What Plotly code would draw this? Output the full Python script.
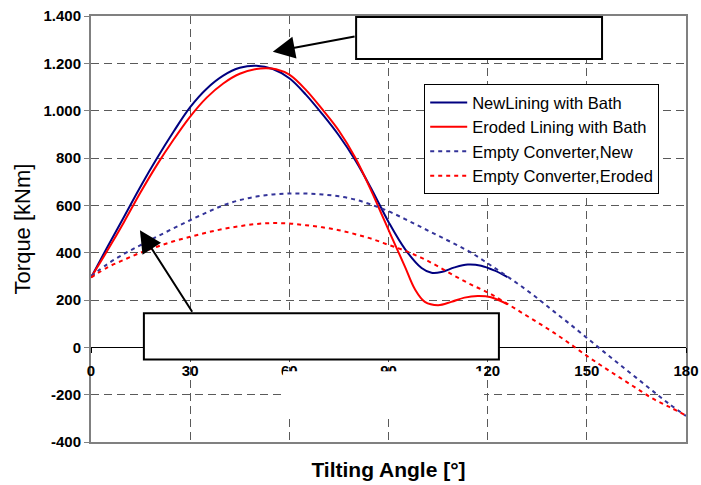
import plotly.graph_objects as go

# ---------------- data ----------------
new_bath_x = [0, 5, 10, 15, 20, 25, 30, 35, 40, 45, 50, 55, 60, 65, 70, 75, 80, 85, 90, 95, 100, 103, 106, 110, 114, 118, 122, 126]
new_bath_y = [295, 425, 552, 680, 800, 912, 1015, 1093, 1148, 1181, 1190, 1176, 1137, 1068, 985, 895, 790, 665, 530, 415, 335, 315, 318, 338, 350, 345, 325, 297]

ero_bath_x = [0, 5, 10, 15, 20, 25, 30, 35, 40, 45, 50, 53, 56, 60, 65, 70, 75, 80, 85, 88, 91, 95, 98, 101, 105, 109, 113, 117, 121, 126]
ero_bath_y = [295, 410, 530, 655, 772, 878, 975, 1055, 1115, 1156, 1176, 1179, 1175, 1152, 1088, 1005, 915, 800, 655, 560, 465, 340, 245, 192, 178, 192, 210, 217, 212, 182]

empty_x = [0, 5, 10, 15, 20, 25, 30, 35, 40, 45, 50, 55, 60, 65, 70, 75, 80, 85, 90, 95, 100, 105, 110, 115, 120, 125, 130, 135, 140, 145, 150, 155, 160, 165, 170, 175, 180]
empty_new_y = [300, 352, 395, 432, 468, 503, 537, 570, 600, 622, 637, 646, 650, 650, 646, 638, 624, 602, 575, 542, 507, 472, 437, 400, 355, 308, 260, 208, 152, 97, 40, -17, -73, -129, -185, -240, -290]
empty_ero_y = [295, 338, 370, 400, 425, 448, 467, 485, 500, 512, 521, 525, 523, 516, 507, 495, 478, 458, 433, 408, 378, 342, 302, 265, 232, 192, 149, 106, 62, 14, -36, -83, -128, -173, -217, -252, -288]

series_names = ["NewLining with Bath", "Eroded Lining with Bath", "Empty Converter,New", "Empty Converter,Eroded"]

x_tick_vals = [0, 30, 60, 90, 120, 150, 180]
x_tick_text = ["0", "30", "60", "90", "120", "150", "180"]
y_tick_vals = [-400, -200, 0, 200, 400, 600, 800, 1000, 1200, 1400]
y_tick_text = ["-400", "-200", "0", "200", "400", "600", "800", "1.000", "1.200", "1.400"]

# ---------------- figure ----------------
FONT = "Liberation Sans, Arial, sans-serif"

fig = go.Figure()
fig.add_trace(go.Scatter(x=new_bath_x, y=new_bath_y, name=series_names[0], mode="lines",
                         line=dict(color="#000080", width=2, shape="spline", smoothing=1)))
fig.add_trace(go.Scatter(x=ero_bath_x, y=ero_bath_y, name=series_names[1], mode="lines",
                         line=dict(color="#FF0000", width=2, shape="spline", smoothing=1)))
fig.add_trace(go.Scatter(x=empty_x, y=empty_new_y, name=series_names[2], mode="lines",
                         line=dict(color="#333399", width=2, dash="4px,4px", shape="spline", smoothing=1)))
fig.add_trace(go.Scatter(x=empty_x, y=empty_ero_y, name=series_names[3], mode="lines",
                         line=dict(color="#FF0000", width=2, dash="4px,4px", shape="spline", smoothing=1)))

# invisible trace on overlay axis to carry the x tick labels along the zero line
fig.add_trace(go.Scatter(x=[0, 180], y=[0, 0], xaxis="x2", mode="lines",
                         line=dict(width=0), showlegend=False, hoverinfo="skip"))

grid = dict(showgrid=True, gridcolor="#5a5a5a", gridwidth=1, griddash="8px,5px")

fig.update_layout(
    width=701, height=485,
    margin=dict(l=91, r=15, t=16, b=43),
    paper_bgcolor="white", plot_bgcolor="white",
    font=dict(family=FONT, color="black"),
    showlegend=True,
    legend=dict(x=0.56, y=0.84, xanchor="left", yanchor="top",
                bgcolor="white", bordercolor="black", borderwidth=1,
                font=dict(family=FONT, size=16.5, color="black"),
                itemwidth=37, tracegroupgap=0),
    xaxis=dict(range=[0, 180], tickvals=x_tick_vals, showticklabels=False, ticks="",
               showline=True, linecolor="#808080", linewidth=1.5, mirror=True,
               zeroline=False, automargin=False,
               title=dict(text="<b>Tilting Angle [°]</b>", standoff=20,
                          font=dict(family=FONT, size=21, color="black")),
               **grid),
    xaxis2=dict(range=[0, 180], overlaying="x", anchor="free", position=0.223, side="bottom",
                tickvals=x_tick_vals, ticktext=x_tick_text, showgrid=False, zeroline=False,
                showline=False, ticks="outside", ticklen=5, tickcolor="black",
                ticklabelstandoff=5, automargin=False, ticklabeloverflow="allow",
                tickfont=dict(family=FONT, size=15, color="black", weight="bold")),
    yaxis=dict(range=[-400, 1400], tickvals=y_tick_vals, ticktext=y_tick_text,
               ticks="outside", ticklen=5, tickcolor="#808080",
               showline=True, linecolor="#808080", linewidth=2, mirror=True,
               zeroline=True, zerolinecolor="black", zerolinewidth=1.2, automargin=False,
               ticklabeloverflow="allow",
               tickfont=dict(family=FONT, size=15, color="black", weight="bold"),
               title=dict(text="Torque [kNm]", standoff=7,
                          font=dict(family=FONT, size=22, color="black")),
               **grid),
)

# white occluding patch below the zero line (as in the source image)
fig.add_shape(type="rect", xref="x", yref="y", x0=58.1, x1=118.9, y0=-283, y1=-101,
              fillcolor="white", line=dict(width=0), layer="above")
# empty callout boxes
fig.add_shape(type="rect", xref="x", yref="y", x0=80.2, x1=154.6, y0=1218, y1=1396,
              fillcolor="white", line=dict(color="black", width=2), layer="above")
fig.add_shape(type="rect", xref="x", yref="y", x0=16.0, x1=123.4, y0=-51, y1=144,
              fillcolor="white", line=dict(color="black", width=2), layer="above")

# arrows from the boxes
for tip, tail in [((55.0, 1249), (80.2, 1315)), ((14.8, 495), (30.9, 144))]:
    fig.add_annotation(x=tip[0], y=tip[1], ax=tail[0], ay=tail[1], xref="x", yref="y",
                       axref="x", ayref="y", text="", showarrow=True,
                       arrowhead=2, arrowsize=2.2, arrowwidth=2, arrowcolor="black", standoff=0)

# remove the default page margin so the figure fills the window exactly
fig.write_html("out.html", config={"displayModeBar": False},
               post_script="document.body.style.margin='0px';document.body.style.overflow='hidden';")
